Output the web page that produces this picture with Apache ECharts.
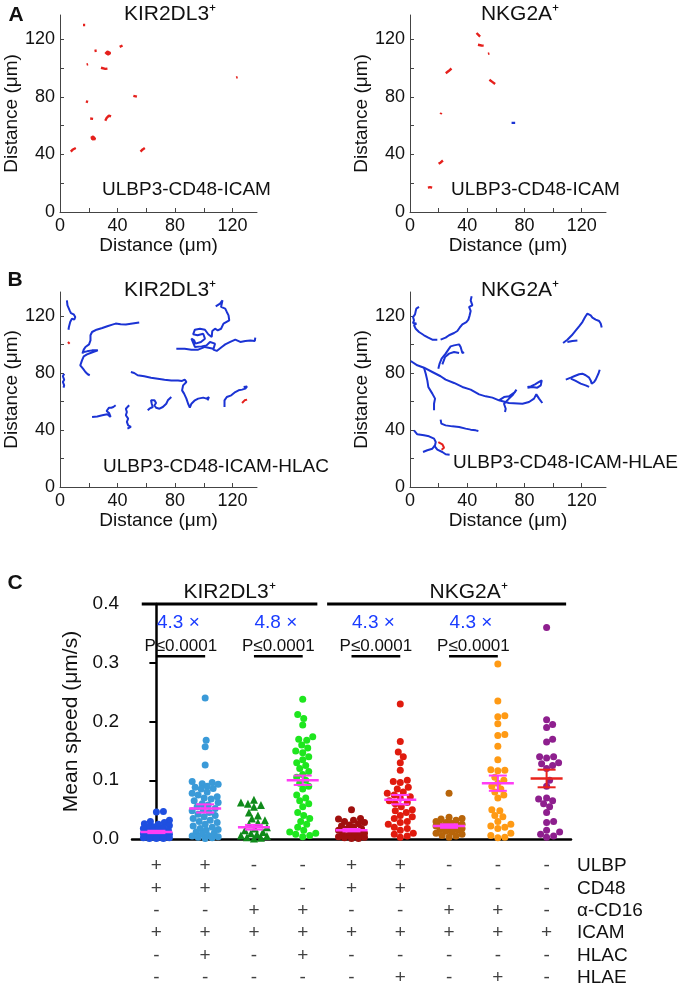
<!DOCTYPE html>
<html>
<head>
<meta charset="utf-8">
<script src="https://cdn.jsdelivr.net/npm/echarts@6/dist/echarts.min.js"></script>
<style>
html,body{margin:0;padding:0;background:#fff}
#main{width:686px;height:989px}
</style>
</head>
<body>
<div id="main"></div>
<script>
const FONT = '"Liberation Sans", Arial, Helvetica, sans-serif';
const BLUE = '#1b33d4', RED = '#e5201c';

// ---- panel A / B : cell tracks (um) ----
const distTicks = [0, 20, 40, 60, 80, 100, 120];
const distLabels = [0, 40, 80, 120];

const kirA_red = [
  [[16,130],[17.5,130]], [[24,112],[25.5,112.3]],
  [[31.5,110],[33,111.5],[35,110.5],[33.5,109.5],[32,110.5]],
  [[41.5,114.8],[43.5,115.8]], [[18.5,102.5],[19.5,102.8]],
  [[28.5,100.3],[31.5,99.5],[33,99.7]], [[18,77],[19.5,76.5]],
  [[51,80.8],[53.5,80.2]], [[21,65],[23,64.8]],
  [[31.5,63.5],[32.5,65.5],[34,67],[35.5,66.5]],
  [[21.5,51.5],[23,52.5],[24.5,50.8],[22.5,50.5],[22,51.8]],
  [[7.5,42],[9,43.5],[11,44.5]], [[56,42],[57.5,43.5],[59,44.5]],
  [[122.5,93.5],[123.5,93.8]]
];
const nkgA_red = [
  [[46.5,124.5],[48,123],[49,122]], [[47.5,116.3],[50,115.8],[51.5,115.7]],
  [[54.5,110],[55.5,110.3]], [[25,96.5],[27,98],[29,99.8]],
  [[55.5,92],[57.5,90.5],[59.5,89]], [[21.5,68],[21.8,69]],
  [[20,33.5],[21.5,34.5],[23,35.8]], [[12.5,17],[14,17.3],[15.5,17]]
];
const nkgA_blue = [[[71,62],[73.5,62]]];

const kirB_blue = [
  [[4.8,131.1],[5.2,127.6],[6.7,124.1],[7.6,122.2],[9.5,121.3],[10.6,119.4],[11.8,119.0],[9.9,117.6],[8.3,118.3],[7.1,115.9],[6.2,112.4],[5.9,110.5]],
  [[55.1,115.5],[50.4,114.8],[45.8,114.1],[42.2,114.3],[38.7,114.8],[36.4,114.1],[32.9,112.9],[29.4,111.7],[25.4,110.5],[22.3,108.9],[21.2,106.6],[21.2,103.0],[20.2,100.2],[17.7,98.4],[16.5,96.5],[15.6,93.7]],
  [[16.5,94.8],[18.8,95.3],[22.3,96.0],[26.3,96.0],[25.4,94.8],[21.2,94.1],[18.8,93.2],[16.5,91.8],[15.3,89.0],[14.1,85.5],[16.0,83.1],[17.7,80.8],[19.3,79.2],[20.7,78.5]],
  [[2.9,79.6],[2.0,77.8],[2.9,75.4],[2.0,73.8],[2.9,71.4],[2.4,69.8]],
  [[108.3,126.9],[111.3,128.8],[113.0,131.1],[112.0,126.5],[114.9,125.3],[116.0,123.0],[117.2,120.6],[118.4,119.9],[117.7,117.1],[113.7,114.8],[112.0,111.2],[109.7,110.1],[107.8,111.2],[105.9,109.6],[105.5,105.4],[103.1,107.3],[100.8,110.5],[97.3,111.2],[93.8,110.5],[92.6,107.3],[95.6,106.6],[99.6,107.7],[100.8,104.2],[98.0,101.9],[94.2,100.7],[93.3,103.0],[91.4,104.2],[93.8,98.4],[98.5,98.8],[101.9,99.5],[104.3,101.9],[107.8,100.7],[106.6,96.5],[109.0,95.6],[112.5,98.4],[114.9,100.2],[118.4,101.9],[121.9,103.5],[125.4,101.9],[128.9,102.6],[132.4,103.0],[135.5,102.6],[135.8,104.9]],
  [[106.6,97.2],[100.8,98.4],[96.1,96.5],[91.4,96.5],[86.7,97.2],[80.9,97.2]],
  [[49.3,80.8],[51.6,80.1],[54.0,78.5],[58.6,77.8],[63.3,76.8],[68.0,76.1],[72.7,75.4],[77.4,74.9],[82.1,74.9],[84.9,74.5],[86.7,75.4],[87.9,73.8],[85.6,71.4],[84.9,67.9],[86.3,65.6],[87.9,62.1],[89.1,58.5],[90.3,55.7],[91.4,58.5],[93.8,60.9],[96.1,62.1],[99.6,62.8],[101.9,62.1],[103.6,63.2],[102.6,60.9]],
  [[127.7,70.3],[130.1,70.7],[128.9,69.1],[126.6,68.4],[124.2,67.9],[121.9,66.7],[119.1,64.4],[116.0,63.2],[114.4,60.9],[114.4,56.2]],
  [[77.4,63.2],[75.0,60.9],[73.9,58.5],[71.5,56.2],[69.2,55.0],[66.8,55.7],[65.7,57.4],[66.8,59.0],[65.7,60.9],[63.3,60.9],[63.8,58.5],[64.5,56.2],[62.2,55.0],[61.0,53.9]],
  [[48.1,57.4],[46.9,56.2],[45.8,55.0],[46.5,52.7],[45.8,50.4],[47.4,48.0],[46.5,45.7],[47.4,43.3],[49.3,42.2],[46.9,41.0]],
  [[38.7,57.4],[37.1,56.2],[35.7,55.7],[34.8,54.3],[34.1,55.7],[32.9,55.0],[32.4,53.4],[34.1,52.0],[35.2,49.2],[32.9,51.1],[29.4,50.4],[25.9,49.6],[22.3,49.2]]
];
const kirB_red = [
  [[5.5,101.9],[6.7,100.7]],
  [[126.6,59.0],[128.4,60.9],[130.1,61.4]]
];
const nkgB_blue = [
  [[6.3,126.5],[4.4,125.3],[4.0,123.7],[3.5,121.3],[2.1,119.4],[2.8,117.1],[2.1,115.2],[4.4,114.8],[2.8,113.6],[4.0,111.2],[6.3,108.9],[9.8,106.6],[12.8,104.9],[15.6,103.5],[19.1,103.5]],
  [[21.4,103.5],[24.9,104.9],[27.3,106.6],[30.8,108.2],[33.1,109.6],[34.7,111.9],[36.6,114.3],[39.4,115.9],[40.8,117.6],[41.7,120.6],[42.4,123.7],[41.3,126.5],[43.6,127.6],[42.4,131.1],[43.1,134.0]],
  [[19.8,83.1],[20.7,86.7],[22.1,90.2],[24.9,93.7],[26.8,96.5],[28.4,98.8],[30.8,99.5],[34.3,100.2],[35.4,98.4],[36.6,94.1],[37.8,94.8]],
  [[22.6,86.2],[24.5,91.3],[27.3,93.7],[30.8,94.8],[34.3,94.1]],
  [[0.5,88.5],[5.1,85.5],[9.8,83.8],[15.6,80.8],[21.4,77.8],[24.9,75.4],[30.8,73.1],[36.6,70.3],[42.4,68.4],[48.3,65.1],[52.9,63.7],[57.6,62.8],[62.2,60.9],[69.2,59.0],[78.6,58.5],[83.2,59.7],[86.7,62.1],[88.3,65.1],[90.2,62.1],[92.5,59.0]],
  [[62.2,60.9],[65.7,63.2],[69.2,63.7],[73.4,66.7],[74.4,68.4],[71.6,64.4],[69.2,62.1],[65.7,58.5],[66.9,55.0],[66.4,52.7]],
  [[9.8,83.8],[11.0,79.6],[12.1,74.9],[12.8,70.3],[15.6,65.6],[17.5,62.1],[16.8,58.5],[16.8,53.9]],
  [[82.1,70.3],[84.4,70.7],[87.4,72.1],[90.2,73.8],[92.1,74.9],[91.4,71.4],[89.0,69.8],[85.5,70.3],[82.1,69.8]],
  [[108.9,75.4],[112.4,76.8],[114.7,77.8],[118.2,79.2],[120.5,79.6],[122.8,78.5],[125.2,76.8],[126.3,74.9],[127.0,72.6],[128.7,73.8],[129.8,75.4],[131.0,76.8],[131.7,79.6],[132.6,82.4]],
  [[112.4,76.1],[115.8,74.5],[119.3,72.6],[122.8,71.4],[125.2,70.3]],
  [[107.0,101.2],[110.0,103.5],[113.1,106.6],[115.9,110.1],[118.2,112.9],[120.5,115.9],[122.4,119.4],[124.0,121.8],[126.3,120.6],[127.5,119.0],[129.8,117.6],[132.2,116.6],[133.3,114.8],[134.0,112.0]],
  [[117.0,103.0],[113.5,102.6],[110.0,101.9]],
  [[21.4,47.3],[21.9,44.5],[24.9,43.3],[29.6,42.6],[34.3,42.2],[38.9,41.0],[42.4,40.3],[45.9,39.8],[47.8,39.3]],
  [[2.8,39.8],[5.1,37.0],[9.8,36.3],[13.3,35.6],[16.8,34.0],[18.0,31.6],[17.5,29.3],[15.6,26.9],[12.1,25.8],[9.1,24.6]],
  [[16.8,29.3],[19.1,26.2],[22.6,24.6],[24.9,23.0],[27.7,22.7]]
];
const nkgB_red = [
  [[19.8,31.6],[22.6,30.0],[21.4,28.6],[23.8,27.6],[22.1,26.2]]
];

// ---- panel C : mean speed (um/s) ----
const g1 = [0.047,0.046,0.032,0.03,0.028,0.026,0.025,0.023,0.021,0.02,0.019,0.018,0.016,0.015,0.014,0.012,0.011,0.01,0.009,0.008,0.007,0.006,0.005,0.005,0.004,0.003,0.003,0.002,0.002,0.001,0.001,0.001];
const g2 = [0.24,0.168,0.157,0.126,0.098,0.096,0.094,0.093,0.09,0.088,0.086,0.085,0.08,0.078,0.075,0.072,0.07,0.068,0.065,0.062,0.06,0.058,0.055,0.052,0.05,0.048,0.045,0.042,0.04,0.038,0.035,0.032,0.03,0.028,0.025,0.022,0.02,0.018,0.016,0.015,0.012,0.01,0.008,0.006,0.005,0.004,0.003,0.002,0.001];
const g3 = [0.067,0.062,0.06,0.058,0.055,0.045,0.04,0.035,0.032,0.028,0.025,0.02,0.018,0.015,0.012,0.01,0.008,0.006,0.005,0.003,0.002,0.001];
const g4 = [0.238,0.212,0.205,0.194,0.174,0.17,0.168,0.16,0.155,0.15,0.147,0.14,0.135,0.13,0.125,0.12,0.115,0.11,0.105,0.1,0.095,0.09,0.085,0.075,0.07,0.065,0.06,0.055,0.045,0.04,0.035,0.03,0.025,0.02,0.015,0.012,0.01,0.008,0.006,0.004];
const g5 = [0.05,0.035,0.034,0.032,0.03,0.028,0.026,0.024,0.022,0.02,0.018,0.017,0.015,0.013,0.012,0.01,0.009,0.008,0.006,0.005,0.004,0.003,0.002,0.001,0.001];
const g6 = [0.23,0.166,0.148,0.14,0.13,0.117,0.1,0.098,0.096,0.088,0.085,0.08,0.078,0.075,0.072,0.07,0.065,0.062,0.06,0.055,0.05,0.048,0.045,0.04,0.038,0.035,0.03,0.028,0.025,0.02,0.018,0.015,0.01,0.008,0.005,0.003];
const g7 = [0.078,0.037,0.035,0.034,0.032,0.03,0.028,0.027,0.025,0.024,0.023,0.022,0.021,0.02,0.019,0.018,0.016,0.015,0.013,0.012,0.01,0.008,0.006,0.005,0.003];
const g8 = [0.298,0.235,0.21,0.208,0.196,0.178,0.176,0.158,0.135,0.118,0.117,0.116,0.105,0.1,0.095,0.09,0.085,0.08,0.075,0.07,0.05,0.048,0.04,0.038,0.03,0.025,0.022,0.02,0.018,0.01,0.006,0.003,0.002];
const g9 = [0.36,0.203,0.195,0.19,0.17,0.165,0.14,0.14,0.138,0.13,0.128,0.125,0.12,0.1,0.09,0.07,0.068,0.065,0.06,0.055,0.045,0.03,0.028,0.015,0.012,0.008,0.005,0.003];
const speedGroups = [g1, g2, g3, g4, g5, g6, g7, g8, g9];
const groupMeans = [0.012, 0.052, 0.02, 0.1, 0.015, 0.067, 0.022, 0.095, 0.103];
const groupSems = [0.002, 0.007, 0.004, 0.008, 0.002, 0.008, 0.003, 0.013, 0.015];

const cellTypes = ['KIR2DL3⁺', 'NKG2A⁺'];
const cellTypeSpan = [[-0.3, 3.3], [3.5, 8.4]];
const comparePairs = [[0, 1], [2, 3], [4, 5], [6, 7]];
const foldChange = ['4.3 ×', '4.8 ×', '4.3 ×', '4.3 ×'];
const pText = 'P≤0.0001';

const rowNames = ['ULBP', 'CD48', 'α-CD16', 'ICAM', 'HLAC', 'HLAE'];
const rowULBP  = ['+','+','-','-','+','+','-','-','-'];
const rowCD48  = ['+','+','-','-','+','+','-','-','-'];
const rowCD16  = ['-','-','+','+','-','-','+','+','-'];
const rowICAM  = ['+','+','+','+','+','+','+','+','+'];
const rowHLAC  = ['-','+','-','+','-','-','-','-','-'];
const rowHLAE  = ['-','-','-','-','-','+','-','+','-'];
const tableRows = [rowULBP, rowCD48, rowCD16, rowICAM, rowHLAC, rowHLAE];

// styles
const dotColors = ['#1f4fe0','#3a9ad8','#0f8a1a','#1ee61e','#a0100e','#e01b0e','#b8650a','#ff9a14','#8e1f8e'];
const dotShapes = ['circle','circle','triangle','circle','circle','circle','circle','circle','circle'];
const meanColors = ['#ff3df5','#ff3df5','#ff3df5','#ff3df5','#ff3df5','#ff3df5','#ff3df5','#ff3df5','#e8231c'];

const C_W = 439, C_H = 235;

// compact beeswarm: offsets limited to +/- maxHalf px; when full, take the least crowded spot
function swarm(vals) {
  const pxY = C_H / 0.4, pxX = C_W / 9, d = 6.5, maxHalf = 13;
  const cand = [];
  for (let k = 0; k <= maxHalf; k++) { cand.push(k); if (k) cand.push(-k); }
  const order = vals.map((v, i) => i).sort((a, b) => vals[a] - vals[b]);
  const placed = [], off = new Array(vals.length).fill(0);
  order.forEach(i => {
    const y = vals[i] * pxY;
    let best = 0, bestD = -1;
    for (const x of cand) {
      let md = Infinity;
      placed.forEach(p => { md = Math.min(md, Math.hypot(p[0] - x, p[1] - y)); });
      if (md >= d) { best = x; bestD = md; break; }
      if (md > bestD) { bestD = md; best = x; }
    }
    placed.push([best, y]);
    off[i] = best / pxX;
  });
  return off;
}

const grids = [
  {left: 60, top: 15, width: 197, height: 197},
  {left: 410, top: 15, width: 196, height: 197},
  {left: 60, top: 292, width: 197, height: 195},
  {left: 410, top: 292, width: 196, height: 195},
  {left: 132, top: 604, width: C_W, height: C_H},
  {left: 132, top: 855, width: C_W, height: 140}
];

function distAxis(gi, isY) {
  return {
    gridIndex: gi, type: 'value', min: 0, max: 137,
    axisLine: {show: true, onZero: false, lineStyle: {color: '#444', width: 1}},
    axisTick: {show: true, inside: true, length: 4, customValues: distTicks, lineStyle: {color: '#444'}},
    axisLabel: {customValues: distLabels, color: '#111', fontSize: 18, fontFamily: FONT, margin: 5},
    splitLine: {show: false},
    name: 'Distance (μm)', nameLocation: 'middle', nameGap: isY ? 36 : 22,
    nameTextStyle: {fontSize: 19, color: '#111', fontFamily: FONT}
  };
}

const xAxes = [0, 1, 2, 3].map(i => distAxis(i, false));
const yAxes = [0, 1, 2, 3].map(i => distAxis(i, true));

xAxes.push({
  gridIndex: 4, type: 'category', data: speedGroups.map((g, i) => 'g' + (i + 1)),
  boundaryGap: true,
  axisLine: {lineStyle: {color: '#000', width: 2.5}},
  axisTick: {alignWithLabel: true, length: 7, lineStyle: {color: '#000', width: 2}},
  axisLabel: {show: false}
});
xAxes.push({gridIndex: 4, type: 'value', min: -0.5, max: 8.5, show: false});
xAxes.push({gridIndex: 5, type: 'category', data: speedGroups.map((g, i) => 'g' + (i + 1)), show: false});

yAxes.push({
  gridIndex: 4, type: 'value', min: 0, max: 0.4, interval: 0.1,
  axisLine: {show: true, lineStyle: {color: '#000', width: 2.5}},
  axisTick: {show: true, length: 7, lineStyle: {color: '#000', width: 2}},
  axisLabel: {formatter: v => v.toFixed(1), color: '#111', fontSize: 19, fontFamily: FONT, margin: 13},
  splitLine: {show: false},
  name: 'Mean speed (μm/s)', nameLocation: 'middle', nameGap: 50,
  nameTextStyle: {fontSize: 21, color: '#111', fontFamily: FONT}
});
yAxes.push({
  gridIndex: 5, type: 'category', data: rowNames, inverse: true, position: 'right',
  axisLine: {show: false}, axisTick: {show: false},
  axisLabel: {interval: 0, color: '#111', fontSize: 19, fontFamily: FONT, margin: 6, align: 'left'}
});

const series = [];
function addTracks(list, gi, color, width) {
  list.forEach(t => series.push({
    type: 'line', xAxisIndex: gi, yAxisIndex: gi, data: t,
    symbol: 'none', lineStyle: {color: color, width: width || 2}, silent: true
  }));
}
addTracks(kirA_red, 0, RED, 2.4);
addTracks(nkgA_red, 1, RED, 2.4);
addTracks(nkgA_blue, 1, BLUE, 2.4);
addTracks(kirB_blue, 2, BLUE);
addTracks(kirB_red, 2, RED);
addTracks(nkgB_blue, 3, BLUE);
addTracks(nkgB_red, 3, RED);

// dots
speedGroups.forEach((vals, gi) => {
  const off = swarm(vals);
  series.push({
    type: 'scatter', xAxisIndex: 5, yAxisIndex: 4, clip: false,
    symbol: dotShapes[gi], symbolSize: dotShapes[gi] === 'triangle' ? 8 : 7,
    itemStyle: {color: dotColors[gi], opacity: 1},
    data: vals.map((v, i) => [gi + off[i], v])
  });
});

// mean +/- SEM
series.push({
  type: 'custom', xAxisIndex: 5, yAxisIndex: 4, clip: false, z: 5,
  data: groupMeans.map((m, i) => [i, m, groupSems[i]]),
  renderItem: (params, api) => {
    const i = api.value(0), m = api.value(1), s = api.value(2);
    const c = api.coord([i, m]), t = api.coord([i, m + s]), b = api.coord([i, m - s]);
    const col = meanColors[i];
    return {type: 'group', children: [
      {type: 'line', shape: {x1: c[0] - 16, y1: c[1], x2: c[0] + 16, y2: c[1]}, style: {stroke: col, lineWidth: 2.5}},
      {type: 'line', shape: {x1: t[0], y1: t[1], x2: b[0], y2: b[1]}, style: {stroke: col, lineWidth: 2}},
      {type: 'line', shape: {x1: t[0] - 9, y1: t[1], x2: t[0] + 9, y2: t[1]}, style: {stroke: col, lineWidth: 2}},
      {type: 'line', shape: {x1: b[0] - 9, y1: b[1], x2: b[0] + 9, y2: b[1]}, style: {stroke: col, lineWidth: 2}}
    ]};
  }
});

// cell type header bars
cellTypeSpan.forEach(sp => series.push({
  type: 'line', xAxisIndex: 5, yAxisIndex: 4, clip: false, symbol: 'none',
  lineStyle: {color: '#000', width: 3}, data: [[sp[0], 0.4], [sp[1], 0.4]]
}));
// comparison bars
comparePairs.forEach(p => series.push({
  type: 'line', xAxisIndex: 5, yAxisIndex: 4, clip: false, symbol: 'none',
  lineStyle: {color: '#000', width: 2.5}, data: [[p[0], 0.311], [p[1], 0.311]]
}));

function textSeries(data, fill, size) {
  return {
    type: 'custom', xAxisIndex: 5, yAxisIndex: 4, clip: false, silent: true,
    data: data,
    renderItem: (params, api) => {
      const c = api.coord([api.value(0), api.value(1)]);
      return {type: 'text', x: c[0], y: c[1], style: {
        text: data[params.dataIndex][2], fill: fill, font: size + 'px ' + FONT,
        align: 'center', verticalAlign: 'middle'}};
    }
  };
}
series.push(textSeries(cellTypes.map((t, i) => [(cellTypeSpan[i][0] + cellTypeSpan[i][1]) / 2 + (i ? 0.45 : 0.0), 0.4205, t]), '#111', 21));
series.push(textSeries(comparePairs.map((p, i) => [(p[0] + p[1]) / 2 - 0.05, 0.368, foldChange[i]]), '#1a3cff', 19));
series.push(textSeries(comparePairs.map(p => [(p[0] + p[1]) / 2, 0.3285, pText]), '#111', 17));

// condition table
const tableData = [];
tableRows.forEach((row, ri) => row.forEach((s, ci) => tableData.push([ci, ri, s])));
series.push({
  type: 'scatter', xAxisIndex: 6, yAxisIndex: 5, symbol: 'rect', symbolSize: 1,
  itemStyle: {color: 'rgba(0,0,0,0)'}, silent: true,
  label: {show: true, position: 'inside', formatter: p => p.data[2], color: '#111', fontSize: 19, fontFamily: FONT},
  data: tableData
});

function txt(x, y, s, size, align, bold) {
  return {type: 'text', x: x, y: y, silent: true, style: {
    text: s, fill: '#111', font: (bold ? 'bold ' : '') + size + 'px ' + FONT,
    align: align || 'center', verticalAlign: 'middle'}};
}

const option = {
  animation: false,
  backgroundColor: '#fff',
  grid: grids,
  xAxis: xAxes,
  yAxis: yAxes,
  series: series,
  graphic: [
    txt(16, 15, 'A', 21, 'center', true),
    txt(15, 280, 'B', 21, 'center', true),
    txt(15, 583, 'C', 21, 'center', true),
    txt(170, 14, 'KIR2DL3⁺', 21),
    txt(520, 14, 'NKG2A⁺', 21),
    txt(170, 290, 'KIR2DL3⁺', 21),
    txt(520, 290, 'NKG2A⁺', 21),
    txt(102, 190, 'ULBP3-CD48-ICAM', 19, 'left'),
    txt(451, 190, 'ULBP3-CD48-ICAM', 19, 'left'),
    txt(103, 467, 'ULBP3-CD48-ICAM-HLAC', 19, 'left'),
    txt(453, 463, 'ULBP3-CD48-ICAM-HLAE', 19, 'left')
  ]
};

const chart = echarts.init(document.getElementById('main'));
chart.setOption(option);
</script>
</body>
</html>
